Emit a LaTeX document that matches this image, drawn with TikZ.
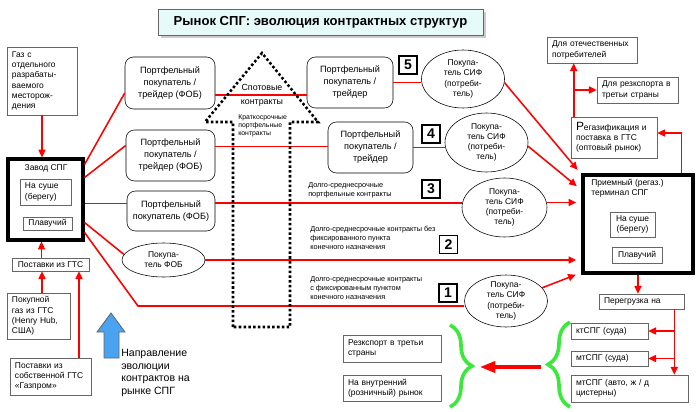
\documentclass[tikz,border=0pt]{standalone}
\usepackage{fontspec}
\setmainfont{Liberation Sans}
\usetikzlibrary{arrows.meta,positioning,shapes.geometric,shadows,decorations.pathreplacing}

\newcommand\pxl{0.25mm}
\newcommand\txtA{\fontsize{6.5}{8.5}\selectfont}
\newcommand\txtB{\fontsize{6}{7.3}\selectfont}
\newcommand\txtC{\fontsize{5.2}{6.5}\selectfont}

\definecolor{lngred}{RGB}{255,0,0}
\definecolor{lnggreen}{RGB}{60,232,60}
\definecolor{lngblue}{RGB}{74,163,240}
\definecolor{lngcyan}{RGB}{230,250,250}

\tikzset{
  sz/.style 2 args={minimum width=#1*\pxl, minimum height=#2*\pxl},
  lbox/.style={draw=black!60, fill=white, font=\txtB, align=left, inner xsep=1.25mm, inner ysep=1pt},
  cbox/.style={draw=black!60, fill=white, font=\txtB, align=center, inner sep=1pt},
  port/.style={draw, rounded corners=6pt, fill=white, font=\txtA, align=center, inner sep=1pt},
  buyer/.style={ellipse, draw, fill=white, font=\txtB, align=center, inner sep=-1pt},
  hub/.style={draw, line width=2.2pt},
  num/.style={draw, line width=0.9pt, fill=white, font=\bfseries\fontsize{10}{10}\selectfont, inner sep=0pt, sz={18}{18}},
  deal/.style={font=\txtC, align=left, inner sep=0pt, anchor=west},
  link/.style={lngred, line width=1.1pt},
  flow/.style={link, -{Triangle[length=5.5pt,width=5pt]}},
  bigflow/.style={lngred, line width=2.4pt, -{Triangle[length=11pt,width=8pt]}},
  brc/.style={lnggreen, line width=2.6pt, decorate, decoration={brace, amplitude=5.5mm, aspect=0.5}},
  spotframe/.style={draw, line width=1.8pt, dash pattern=on 1.8pt off 1.6pt}
}

\begin{document}
\begin{tikzpicture}[x=0.25mm, y=-0.25mm]
\useasboundingbox (0,0) rectangle (700,412);

% title
\node[draw=black!60, fill=lngcyan, drop shadow={shadow xshift=2pt, shadow yshift=-2pt, fill=black!40},
      sz={325}{26}, font=\bfseries\fontsize{9.3}{11}\selectfont] (title) at (320.5,22)
      {Рынок СПГ: эволюция контрактных структур};

% supply side
\node[lbox, text width=15mm, minimum height=68*\pxl] (field) at (42,81)
      {Газ с\\отдельного\\разрабаты-\\ваемого\\месторож-\\дения};
\node[hub, sz={75}{81}] (plant) at (45.5,199.5) {};
\node[font=\txtB] (plantname) at (46,168) {Завод СПГ};
\node[lbox, text width=10.25mm, minimum height=26*\pxl] (onshore) at (45.5,192) {На суше\\(берегу)};
\node[cbox, sz={49}{13}] (floating) at (47.5,223.5) {Плавучий};
\node[cbox, sz={77}{13}] (gtssupply) at (50.5,264.5) {Поставки из ГТС};
\node[lbox, text width=13.25mm, minimum height=46*\pxl] (bought) at (38.5,316)
      {Покупной\\газ из ГТС\\(Henry Hub,\\США)};
\node[lbox, text width=17.75mm, minimum height=37*\pxl] (owngts) at (50.5,376.5)
      {Поставки из\\собственной ГТС\\«Газпром»};

% contract buyers
\node[port, sz={90}{52}] (fob1) at (170,83) {Портфельный\\покупатель /\\трейдер (ФОБ)};
\node[port, sz={89}{51}] (fob2) at (170.5,155.5) {Портфельный\\покупатель /\\трейдер (ФОБ)};
\node[port, sz={88}{40}] (fob3) at (171,211) {Портфельный\\покупатель (ФОБ)};
\node[buyer, sz={83}{34}] (fobe) at (163.5,260) {Покупа-\\тель ФОБ};
\node[port, sz={86}{51}] (trader5) at (350,82.5) {Портфельный\\покупатель /\\трейдер};
\node[port, sz={85}{51}] (trader4) at (370.5,147.5) {Портфельный\\покупатель /\\трейдер};
\node[buyer, sz={83}{58}] (cif5) at (463,79) {Покупа-\\тель СИФ\\(потреби-\\тель)};
\node[buyer, sz={83}{59}] (cif4) at (486.5,142.5) {Покупа-\\тель СИФ\\(потреби-\\тель)};
\node[buyer, sz={85}{59}] (cif3) at (504.5,207.5) {Покупа-\\тель СИФ\\(потреби-\\тель)};
\node[buyer, sz={83}{52}] (cif1) at (506,301) {Покупа-\\тель СИФ\\(потреби-\\тель)};

\node[num] (n5) at (408,65) {5};
\node[num] (n4) at (431,134) {4};
\node[num] (n3) at (431,189) {3};
\node[num] (n2) at (448.5,244.5) {2};
\node[num] (n1) at (448,293) {1};

\node[deal] (deal3) at (308,190) {Долго-среднесрочные\\портфельные контракты};
\node[deal] (deal2) at (310,238) {Долго-среднесрочные контракты без\\фиксированного пункта\\конечного назначения};
\node[deal] (deal1) at (310,288) {Долго-среднесрочные контракты\\с фиксированным пунктом\\конечного назначения};

% receiving side
\node[hub, sz={110}{98}] (term) at (638,224) {};
\node[font=\txtB, align=left, anchor=north west, inner sep=0pt] (termname) at (591,179)
      {Приемный (регаз.)\\терминал СПГ};
\node[cbox, sz={45}{25}] (onshore2) at (632.5,224.5) {На суше\\(берегу)};
\node[cbox, sz={50}{16}] (floating2) at (637,255) {Плавучий};
\node[lbox, text width=19mm, minimum height=41*\pxl] (regas) at (614,137.5)
      {{\fontsize{8.5}{7.3}\selectfont Р}егазификация и\\поставка в ГТС\\(оптовый рынок)};
\node[lbox, text width=20mm, minimum height=26*\pxl] (dom) at (592,50) {Для отечественных\\потребителей};
\node[lbox, text width=17.75mm, minimum height=26*\pxl] (reexp) at (637.5,90) {Для резкспорта в\\третьи страны};
\node[lbox, text width=18.75mm, minimum height=15*\pxl] (trans) at (641.5,301.5) {Перегрузка на};
\node[lbox, text width=16.75mm, minimum height=16*\pxl] (kt) at (609.5,331) {ктСПГ (суда)};
\node[lbox, text width=16.75mm, minimum height=15*\pxl] (mt) at (609.5,358.5) {мтСПГ (суда)};
\node[lbox, text width=26.75mm, minimum height=27*\pxl] (mtland) at (629.5,388.5) {мтСПГ (авто, ж / д\\цистерны)};
\node[lbox, text width=22mm, minimum height=27*\pxl] (reexp2) at (392,348.5) {Резкспорт в третьи\\страны};
\node[lbox, text width=22mm, minimum height=26*\pxl] (retail) at (392,388) {На внутренний\\(розничный) рынок};

% supply arrows
\draw[flow] (field.south) -- (field.south |- plant.north);
\draw[flow] ([xshift=-9*\pxl]gtssupply.north) -- ([xshift=-9*\pxl]gtssupply.north |- plant.south);
\draw[flow] ([xshift=3.5*\pxl]bought.north) -- ([xshift=3.5*\pxl]bought.north |- gtssupply.south);
\draw[flow] ([xshift=28.5*\pxl]owngts.north) -- ([xshift=28.5*\pxl]owngts.north |- gtssupply.south);

% contracts from the plant
\coordinate (bend1) at (138,306);
\draw[link] ([yshift=35*\pxl]plant.east) -- ([yshift=-10*\pxl]fob1.west);
\draw[link] ([yshift=22*\pxl]plant.east) -- ([yshift=10*\pxl]fob2.west);
\draw[link] ([yshift=-4*\pxl]plant.east) -- ([yshift=-4*\pxl]plant.east -| fob3.west);
\draw[link] ([yshift=-23*\pxl]plant.east) -- (fobe.172);
\draw[link] ([yshift=-33*\pxl]plant.east) -- (bend1) -- (bend1 -| cif1.west);

\draw[link] ([yshift=-12*\pxl]fob1.east) -- ([yshift=-12*\pxl]fob1.east -| trader5.west);
\draw[link] (trader5.east) -- (trader5.east -| cif5.west);
\draw[link] ([yshift=9*\pxl]fob2.east) -- ([yshift=9*\pxl]fob2.east -| trader4.west);
\draw[link] (trader4.east) -- (trader4.east -| cif4.west);
\draw[link] ([yshift=8*\pxl]fob3.east) -- ([yshift=8*\pxl]fob3.east -| cif3.west);

% into the terminal
\draw[flow, shorten >=1.5mm] (cif5.-5) -- ([yshift=-1*\pxl]term.north west);
\draw[flow, shorten >=1.5mm] (cif4.-5) -- ([yshift=34*\pxl]term.west);
\draw[flow, shorten >=1.3mm] ([yshift=5*\pxl]cif3.east) -- ([yshift=5*\pxl]cif3.east -| term.west);
\draw[flow, shorten >=1.3mm] (fobe.east) -- (fobe.east -| term.west);
\draw[flow, shorten >=1.5mm] (cif1.20) -- ([yshift=2*\pxl]term.south west);

% after the terminal
\coordinate (regasup) at ([xshift=3*\pxl]regas.north west);
\draw[flow] ([xshift=-13*\pxl]term.north east) |- ([yshift=4.5*\pxl]regas.east);
\draw[flow] (regasup) -- (regasup |- dom.south);
\draw[flow] (regasup |- reexp.west) -- (reexp.west);

\coordinate (transdown) at ([xshift=-10*\pxl]trans.south east);
\draw[flow] (term.south) -- (term.south |- trans.north);
\draw[flow] (transdown) -- (transdown |- mtland.north);
\draw[flow] (transdown |- kt.east) -- (kt.east);
\draw[flow] (transdown |- mt.east) -- (mt.east);

% braces
\draw[brc] (570,407) -- (570,322);
\draw[brc] (450,325) -- (450,407);
\coordinate (fromsmall) at (541,367);
\coordinate (tomarket) at (480,367);
\draw[bigflow] (fromsmall) -- (tomarket);

% evolution of contracts
\draw[spotframe] (233,327) -- (233,122) -- (205,122) -- (262,53) -- (318,122)
      -- (290,122) -- (290,327) -- cycle;
\node[font=\fontsize{6.3}{10}\selectfont, align=center] (spot) at (262,95) {Спотовые\\контракты};
\node[font=\fontsize{4.9}{5.9}\selectfont, align=left, anchor=north west, inner sep=0pt] (shortterm)
      at (238,114) {Краткосрочные\\портфельные\\контракты};

\draw[draw=black!60, fill=lngblue, line width=0.6pt] (104,358) -- (104,332) -- (97,332)
      -- (111,313) -- (125,332) -- (119,332) -- (119,358) -- cycle;
\node[font=\fontsize{7.5}{9}\selectfont, align=left, anchor=north west, inner sep=0pt] (direction)
      at (121,349) {Направление\\эволюции\\контрактов на\\рынке СПГ};
\end{tikzpicture}
\end{document}
